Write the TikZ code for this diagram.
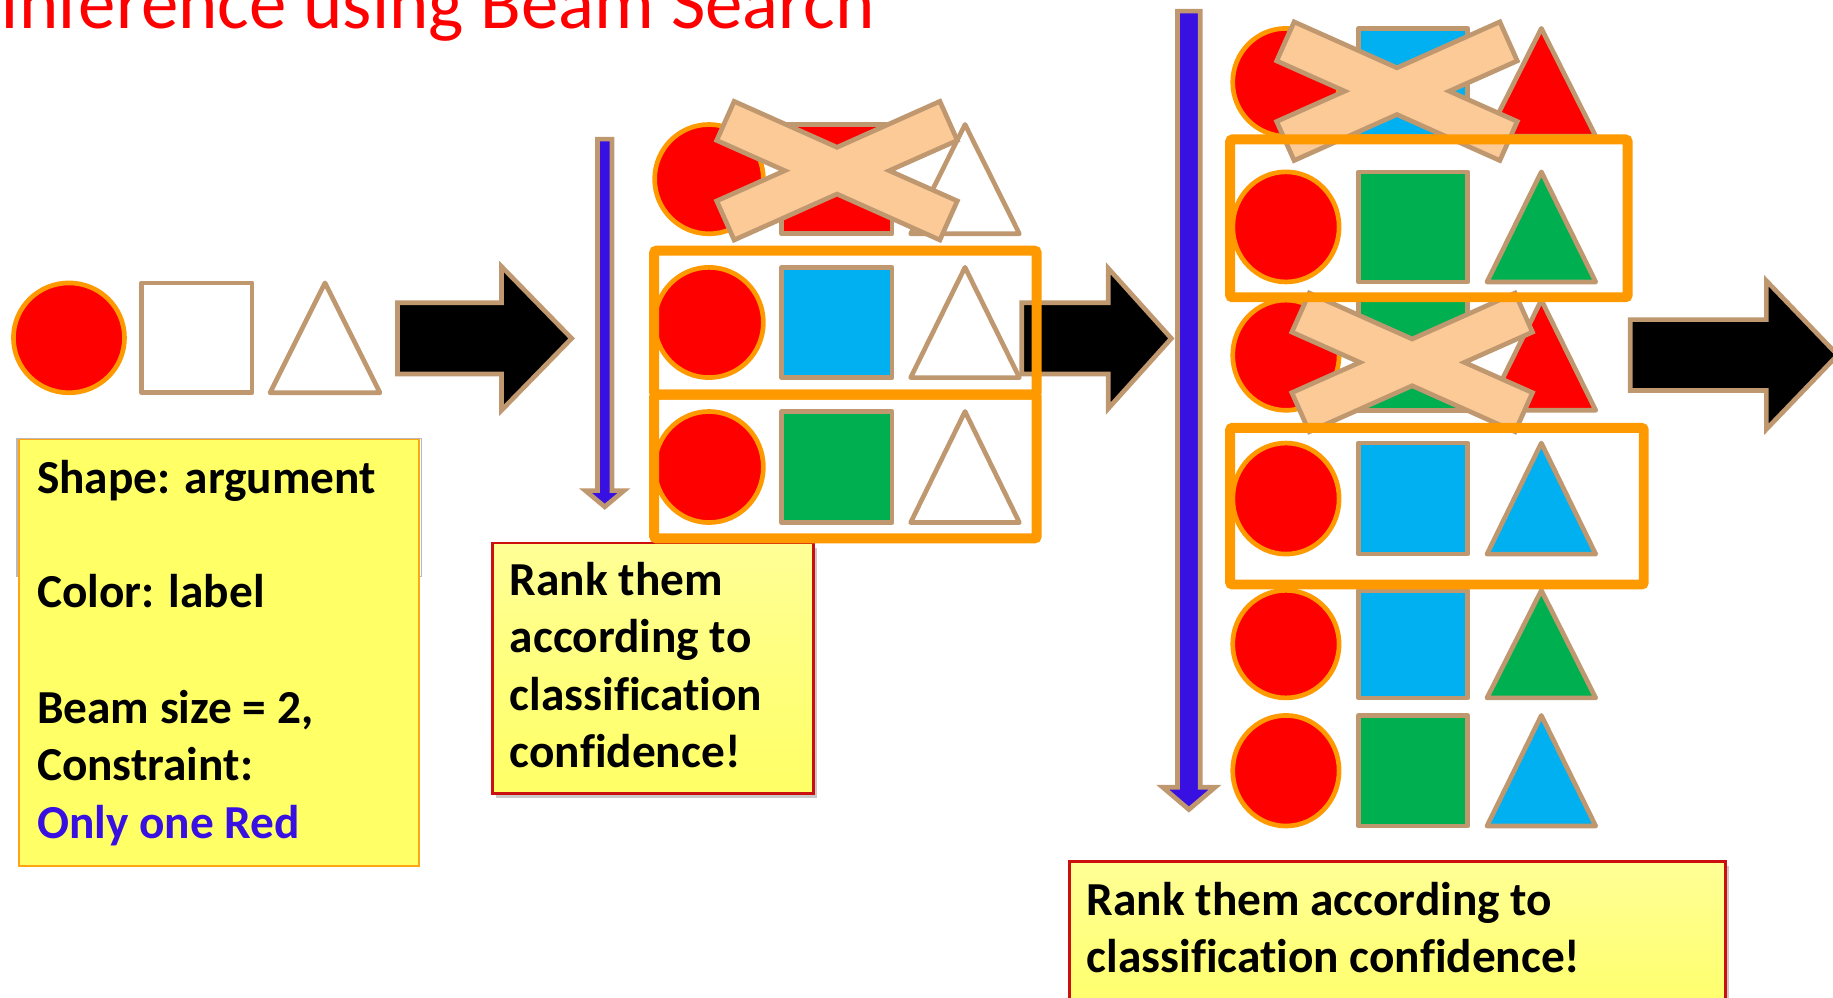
\documentclass[tikz,border=0pt]{standalone}
\usepackage{fontspec}
\setmainfont{Carlito}[Ligatures=NoCommon]
\usetikzlibrary{shadows}
\definecolor{tanc}{RGB}{192,152,112}
\definecolor{orng}{RGB}{255,153,0}
\definecolor{cred}{RGB}{255,0,0}
\definecolor{cblue}{RGB}{0,176,240}
\definecolor{cgreen}{RGB}{0,176,80}
\definecolor{peach}{RGB}{252,202,150}
\definecolor{purp}{RGB}{56,16,226}
\definecolor{yel}{RGB}{255,255,102}
\definecolor{yellt}{RGB}{255,255,150}
\definecolor{boxred}{RGB}{204,16,16}
\definecolor{boxorng}{RGB}{255,165,20}
\tikzset{
  circsty/.style={draw=orng, line width=4pt, fill=cred},
  shsty/.style={draw=tanc, line width=4pt, line join=round},
  arrsty/.style={draw=tanc, fill=black, line width=4pt, line join=miter},
  barsty/.style={draw=tanc, fill=purp, line width=4pt, line join=miter},
  xsty/.style={draw=tanc, fill=peach, line width=4pt, line join=miter},
  obox/.style={draw=orng, line width=8.5pt, rounded corners=2pt},
  notebox/.style={draw=boxred, line width=2.5pt, top color=yellt, bottom color=yel,
     drop shadow={shadow xshift=3pt, shadow yshift=-4pt, opacity=0.35, fill=black!60}},
  txt/.style={font=\fontsize{40.5}{49}\selectfont\bfseries, anchor=base west, inner sep=0pt},
}
\newcommand\bigArrow[6]{\draw[arrsty] (#1,#4-#5) -- (#2,#4-#5) -- (#2,#4-#6) -- (#3,#4) -- (#2,#4+#6) -- (#2,#4+#5) -- (#1,#4+#5) -- cycle;}
\newcommand\vArrow[6]{\draw[barsty] (#1-#3,#2) -- (#1+#3,#2) -- (#1+#3,#4) -- (#1+#5,#4) -- (#1,#6) -- (#1-#5,#4) -- (#1-#3,#4) -- cycle;}
\newcommand\crossX[2]{\draw[xsty] (#1-88,#2-59.3) -- (#1,#2-20) -- (#1+88,#2-59.3) -- (#1+102.9,#2-25.9) -- (#1+44.7,#2) -- (#1+102.9,#2+25.9) -- (#1+88,#2+59.3) -- (#1,#2+20) -- (#1-88,#2+59.3) -- (#1-102.9,#2+25.9) -- (#1-44.7,#2) -- (#1-102.9,#2-25.9) -- cycle;}
\newcommand\rowB[4]{%
  \pgfmathsetmacro\myCY{(#1+#2)/2}\pgfmathsetmacro\myRY{(#2-#1)/2}%
  \draw[circsty] (606.5,\myCY) ellipse [x radius=46.5pt, y radius=\myRY pt];
  \draw[shsty,fill=#3] (668.6,#1) rectangle (763.1,#2);
  \draw[shsty,fill=#4] (825.5,#1) -- (872,#2) -- (779,#2) -- cycle;}
\newcommand\rowC[4]{%
  \pgfmathsetmacro\myCY{(#1+#2)/2}\pgfmathsetmacro\myRY{(#2-#1)/2}%
  \draw[circsty] (1100,\myCY) ellipse [x radius=45.5pt, y radius=\myRY pt];
  \draw[shsty,fill=#3] (1162,#1) rectangle (1255.5,#2);
  \draw[shsty,fill=#4] (1318.5,#1) -- (1365,#2) -- (1272,#2) -- cycle;}
\begin{document}
\begin{tikzpicture}[x=1pt,y=-1pt]
\clip (0,0) rectangle (1568,853);
\fill[white] (0,0) rectangle (1568,853);
% note box 1
\draw[gray!55, line width=1pt] (14.5,375) rectangle (360.5,493);
\draw[draw=boxorng, line width=1.5pt, fill=yel] (16.5,376) rectangle (358.5,740.5);
\node[txt] (s1) at (31.5,422) {Shape: argument};
\node[txt] (s2) at (31.5,520) {Color: label};
\node[txt] (s3) at (31.5,619) {Beam size = 2,};
\node[txt] (s4) at (31.5,668) {Constraint:};
\node[txt, text=purp] (s5) at (31.5,717) {Only one Red};
% input
\draw[circsty] (59,289) ellipse [x radius=47.5pt, y radius=47pt];
\draw[shsty,fill=white] (121,242) rectangle (215.7,336);
\draw[shsty,fill=white] (278,242) -- (325,336) -- (231,336) -- cycle;
\bigArrow{340}{429}{489}{289.5}{30.5}{61.5}
% stage 2
\vArrow{517.3}{119}{6.2}{419.7}{16.5}{433.5}
\draw[notebox] (421.5,464.5) rectangle (696,679);
\node[txt] (r1) at (436,509.5) {Rank them};
\node[txt] (r2) at (436,558.5) {according to};
\node[txt] (r3) at (436,607.5) {classification};
\node[txt] (r4) at (436,656.5) {confidence!};
\bigArrow{874}{948}{1002}{289.5}{30.5}{60}
\rowB{106.5}{200}{cred}{white}
\rowB{228.7}{323}{cblue}{white}
\rowB{352}{447}{cgreen}{white}
\crossX{716}{146}
\draw[obox] (559.6,214.4) rectangle (886.8,337.5);
\draw[obox] (559.6,337.5) rectangle (886.8,460.6);
% stage 3
\vArrow{1017}{9.5}{9.7}{673.5}{22.3}{692.5}
\rowC{24.3}{116.5}{cblue}{cred}
\rowC{147}{241.2}{cgreen}{cgreen}
\rowC{256.7}{351}{cgreen}{cred}
\rowC{379}{474}{cblue}{cblue}
\rowC{505}{597}{cblue}{cgreen}
\rowC{612}{706.6}{cgreen}{cblue}
\crossX{1195}{78}
\crossX{1208}{310}
\draw[obox] (1052.3,119.3) rectangle (1392.3,254.3);
\draw[obox] (1052.3,366) rectangle (1406.1,500);
\bigArrow{1394.5}{1511}{1572}{303.7}{30.3}{63.5}
\draw[notebox] (914.5,737) rectangle (1476,880);
\node[txt] (q1) at (929.5,783) {Rank them according to};
\node[txt] (q2) at (929.5,832) {classification confidence!};
% title
\node[font=\fontsize{64}{70}\selectfont, text=cred, anchor=base west, inner sep=0pt] (title) at (0,24) {Inference using Beam Search};
\end{tikzpicture}
\end{document}
